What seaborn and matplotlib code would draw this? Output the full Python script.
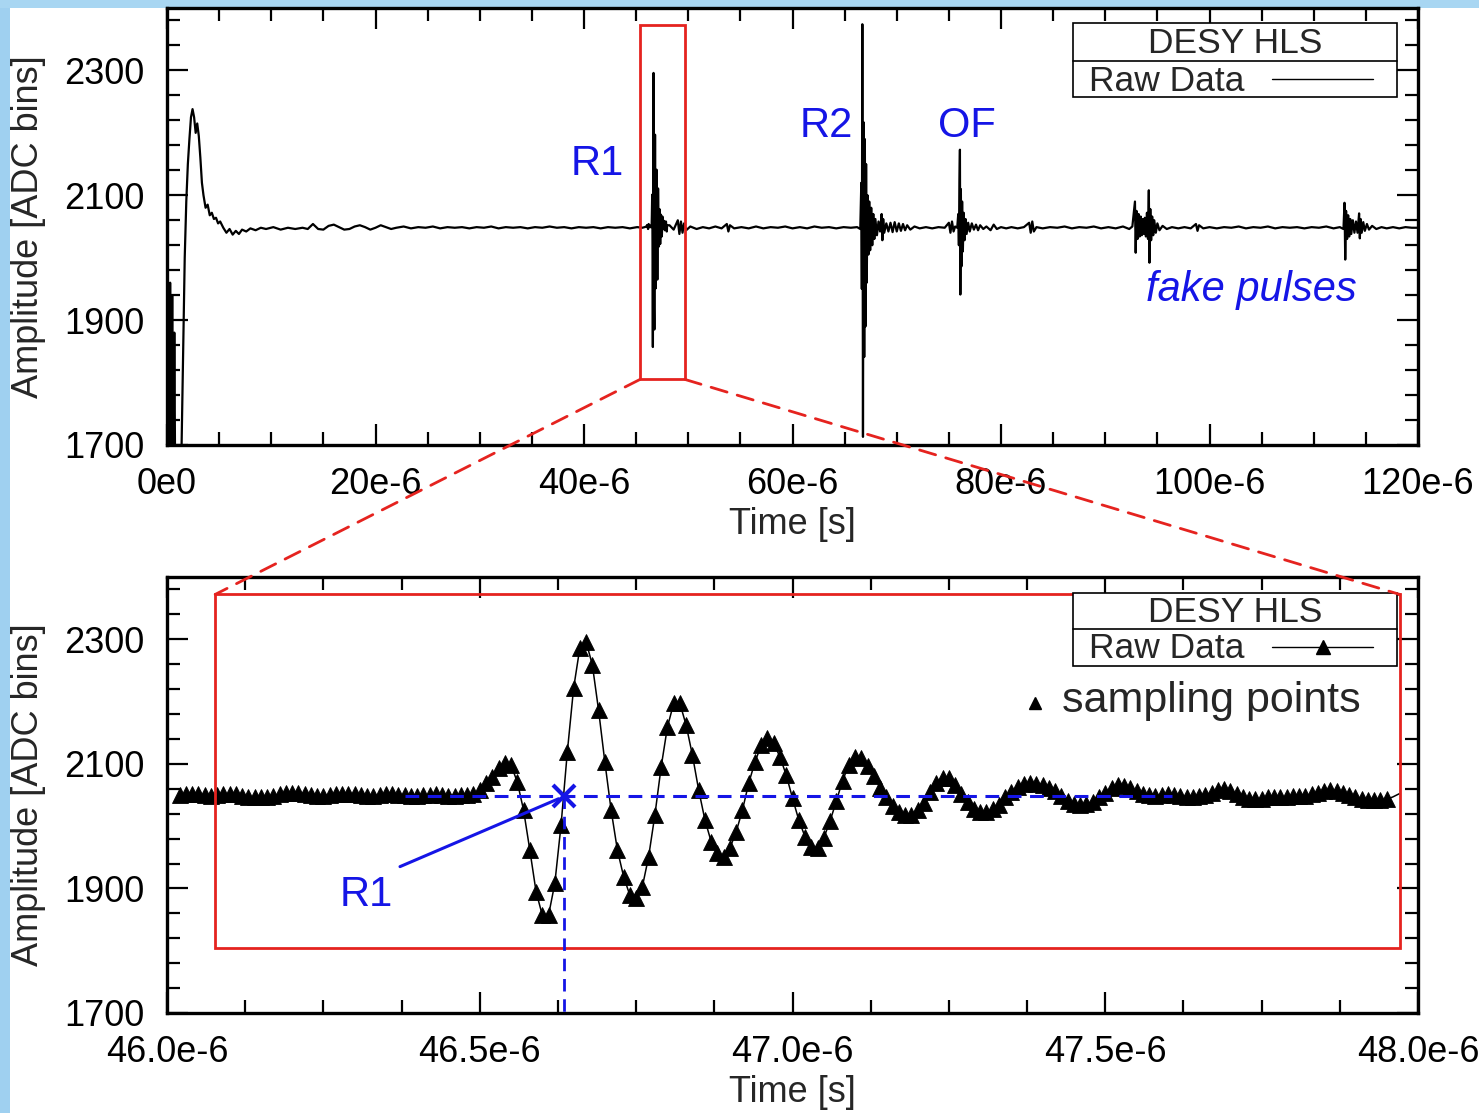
import numpy as np
import pandas as pd
import matplotlib
matplotlib.use("Agg")
import matplotlib.pyplot as plt
import seaborn as sns
from matplotlib.patches import Rectangle, ConnectionPatch
from matplotlib.ticker import FixedLocator, FuncFormatter

# ---------------- data ----------------
# Zoomed window: ADC samples taken every 10 ns, first sample at 46.02 us
window_start_us = 46.02
window_step_us = 0.01
window_adc = [
    2050, 2051, 2052, 2051, 2050, 2049, 2050, 2051,
    2052, 2051, 2049, 2047, 2046, 2046, 2047, 2049, 2051, 2053,
    2054, 2053, 2052, 2050, 2049, 2049, 2050, 2051, 2052, 2052,
    2051, 2050, 2049, 2049, 2050, 2051, 2051, 2050, 2050, 2049,
    2049, 2050, 2050, 2051, 2050, 2049, 2049, 2050, 2050, 2052,
    2058, 2069, 2079, 2093, 2101, 2098, 2071, 2026, 1962, 1895,
    1857, 1857, 1908, 2002, 2119, 2221, 2286, 2296, 2259, 2186,
    2103, 2026, 1962, 1919, 1889, 1885, 1903, 1951, 2018, 2095,
    2159, 2197, 2197, 2162, 2114, 2058, 2010, 1975, 1957, 1951,
    1965, 1991, 2026, 2069, 2103, 2130, 2141, 2133, 2111, 2082,
    2045, 2010, 1983, 1967, 1965, 1981, 2008, 2040, 2073, 2098,
    2111, 2110, 2096, 2080, 2062, 2046, 2033, 2022, 2018, 2018,
    2026, 2037, 2055, 2070, 2078, 2077, 2066, 2051, 2038, 2027,
    2022, 2022, 2027, 2034, 2046, 2055, 2063, 2067, 2069, 2068,
    2066, 2062, 2056, 2049, 2041, 2036, 2034, 2035, 2039, 2046,
    2054, 2061, 2066, 2065, 2061, 2056, 2052, 2050, 2049, 2050,
    2051, 2050, 2049, 2047, 2047, 2048, 2050, 2054, 2058, 2059,
    2056, 2051, 2047, 2044, 2044, 2044, 2046, 2047, 2047, 2047,
    2048, 2048, 2049, 2051, 2053, 2056, 2058, 2057, 2054, 2050,
    2046, 2043, 2042, 2042, 2042, 2043, 2047, 2052,
]
n_marked = 194  # sampling-point markers shown up to 47.95 us

# Overview trace (0 - 120 us), outside the zoomed window
transient_t = [0.0, 0.1, 0.2, 0.3, 0.4, 0.5, 0.6, 0.7, 0.8, 0.95,
               1.1, 1.25, 1.4, 1.55, 1.7, 1.85, 2.0, 2.15, 2.3, 2.45,
               2.6, 2.75, 2.9, 3.05, 3.2, 3.35, 3.5, 3.7, 3.9, 4.1,
               4.3, 4.5, 4.7, 4.9, 5.1, 5.4, 5.7, 6.0, 6.3, 6.6,
               6.9, 7.2, 7.6, 8.0, 8.5, 9.0]
transient_adc = [1990, 1700, 1560, 1960, 1600, 1940, 1560, 1880, 1600, 1650,
                 1580, 1600, 1700, 1850, 2000, 2090, 2150, 2190, 2225, 2238,
                 2225, 2200, 2215, 2195, 2160, 2120, 2100, 2080, 2085, 2068,
                 2072, 2062, 2064, 2055, 2058, 2048, 2040, 2046, 2037, 2043,
                 2038, 2045, 2042, 2047, 2044, 2048]

quiet_t = [9.5, 10.2, 10.9, 11.6, 12.3, 13.0, 13.5, 14.0, 14.5, 15.0,
           15.5, 16.0, 16.5, 17.0, 17.5, 18.0, 18.5, 19.0, 19.5, 20.0,
           20.5, 21.0, 21.5, 22.0, 22.7, 23.4, 24.1, 24.8, 25.5, 26.2,
           26.9, 27.6, 28.3, 29.0, 29.7, 30.4, 31.1, 31.8, 32.5, 33.2,
           33.9, 34.6, 35.3, 36.0, 36.7, 37.4, 38.1, 38.8, 39.5, 40.2,
           40.9, 41.6, 42.3, 43.0, 43.7, 44.4, 45.1, 45.6]
quiet_adc = [2046, 2049, 2045, 2048, 2046, 2048, 2046, 2054, 2046, 2045,
             2051, 2053, 2049, 2045, 2046, 2050, 2052, 2049, 2045, 2048,
             2052, 2049, 2046, 2048, 2050, 2047, 2049, 2048, 2050, 2047,
             2049, 2048, 2049, 2047, 2049, 2048, 2050, 2047, 2049, 2048,
             2049, 2047, 2049, 2048, 2050, 2048, 2049, 2047, 2049, 2048,
             2049, 2047, 2049, 2048, 2049, 2047, 2049, 2048]

after_r1_t = [48.2, 48.6, 49.0, 49.15, 49.3, 49.45, 49.6, 49.8, 50.2, 50.8,
              51.4, 52.0, 52.6, 53.2, 53.7, 53.85, 54.0, 54.4, 55.1, 55.8,
              56.5, 57.2, 57.9, 58.6, 59.3, 60.0, 60.7, 61.4, 62.1, 62.8,
              63.5, 64.2, 64.9, 65.6, 66.2, 66.5]
after_r1_adc = [2052, 2045, 2060, 2038, 2058, 2040, 2055, 2044, 2050, 2046,
                2049, 2047, 2050, 2047, 2054, 2042, 2052, 2047, 2049, 2047,
                2050, 2047, 2049, 2048, 2050, 2047, 2049, 2047, 2050, 2048,
                2049, 2047, 2049, 2048, 2049, 2046]

r2_t = [66.6, 66.65, 66.7, 66.76, 66.82, 66.88, 66.94, 67.0, 67.06, 67.12,
        67.2, 67.28, 67.36, 67.45, 67.55, 67.65, 67.75, 67.85, 67.95, 68.1,
        68.25, 68.4, 68.55, 68.62, 68.7, 68.8, 69.0, 69.2, 69.4, 69.6,
        69.8, 70.0, 70.2, 70.4, 70.6, 70.8, 71.0, 71.3, 71.7, 72.2]
r2_adc = [2120, 1950, 2374, 1713, 2217, 1841, 2190, 1890, 2150, 1960,
          2100, 2005, 2090, 2012, 2080, 2020, 2070, 2030, 2062, 2036,
          2058, 2042, 2070, 2028, 2062, 2040, 2055, 2042, 2056, 2041,
          2057, 2042, 2055, 2043, 2054, 2044, 2052, 2045, 2050, 2047]

of_t = [72.8, 73.4, 74.0, 74.6, 75.0, 75.15, 75.3, 75.45, 75.6, 75.8,
        75.9, 75.96, 76.02, 76.06, 76.1, 76.15, 76.2, 76.27, 76.34, 76.42,
        76.5, 76.6, 76.7, 76.85, 77.0, 77.2, 77.4, 77.6, 77.8, 78.0,
        78.3, 78.6, 79.0, 79.3, 79.6, 80.0, 80.5, 81.0, 81.6, 82.2,
        82.7, 82.85, 83.0, 83.15, 83.4, 84.0, 84.7, 85.4, 86.1, 86.8,
        87.5, 88.2, 88.9, 89.6, 90.3, 91.0, 91.7, 92.3, 92.6]
of_adc = [2049, 2047, 2049, 2048, 2056, 2040, 2058, 2042, 2050, 2048,
          2070, 2020, 2125, 2173, 1941, 2110, 1986, 2090, 2010, 2072,
          2028, 2062, 2038, 2056, 2042, 2055, 2045, 2053, 2044, 2052,
          2046, 2050, 2044, 2053, 2046, 2049, 2047, 2049, 2047, 2049,
          2056, 2040, 2058, 2042, 2049, 2047, 2049, 2048, 2050, 2047,
          2049, 2048, 2050, 2047, 2049, 2047, 2050, 2046, 2050]

fake1_t = [92.85, 92.92, 93.0, 93.1, 93.2, 93.3, 93.4, 93.5, 93.6, 93.7,
           93.8, 93.9, 94.0, 94.1, 94.18, 94.24, 94.32, 94.4, 94.5, 94.6,
           94.7, 94.85, 95.0, 95.2, 95.5, 95.9, 96.4, 97.0, 97.6, 98.2,
           98.7, 98.85, 99.0, 99.4, 100.0, 100.7, 101.4, 102.1, 102.8, 103.5,
           104.2, 104.9, 105.6, 106.3, 107.0, 107.7, 108.4, 109.1, 109.8, 110.5,
           111.2, 111.9, 112.5, 112.85]
fake1_adc = [2090, 2008, 2075, 2030, 2070, 2034, 2066, 2036, 2062, 2038,
             2064, 2034, 2072, 2030, 2108, 1992, 2078, 2028, 2066, 2036,
             2060, 2040, 2055, 2044, 2051, 2046, 2049, 2047, 2049, 2047,
             2054, 2043, 2052, 2047, 2049, 2047, 2049, 2048, 2050, 2047,
             2049, 2048, 2050, 2047, 2049, 2048, 2049, 2047, 2049, 2048,
             2050, 2047, 2049, 2046]

fake2_t = [112.95, 113.02, 113.1, 113.2, 113.3, 113.4, 113.5, 113.6, 113.75, 113.9,
           114.05, 114.2, 114.35, 114.42, 114.5, 114.6, 114.75, 114.9, 115.1, 115.3,
           115.6, 116.0, 116.5, 117.0, 117.6, 118.2, 118.8, 119.4, 120.0]
fake2_adc = [2088, 1997, 2075, 2030, 2068, 2034, 2062, 2038, 2060, 2040,
             2058, 2040, 2071, 2031, 2062, 2040, 2057, 2043, 2054, 2045,
             2051, 2046, 2049, 2047, 2049, 2047, 2049, 2048, 2048]

# tick positions / labels
top_major_us = [0, 20, 40, 60, 80, 100, 120]
top_minor_us = list(range(0, 121, 5))
zoom_major_us = [46.0, 46.5, 47.0, 47.5, 48.0]
zoom_minor_us = [46.0 + 0.125 * i for i in range(17)]
y_major = [1700, 1900, 2100, 2300]
y_minor = list(range(1700, 2401, 40))

# annotation values
zoom_box_us = (45.37, 49.69)       # red box on overview
zoom_box2_us = (46.077, 47.971)    # red box in zoomed view
box_adc = (1805, 2372)
r1_time_us = 46.634
baseline_adc = 2048

# ---------------- build frames ----------------
window_t_us = window_start_us + window_step_us * np.arange(len(window_adc))
segments = [(transient_t, transient_adc), (quiet_t, quiet_adc),
            (list(window_t_us), window_adc), (after_r1_t, after_r1_adc),
            (r2_t, r2_adc), (of_t, of_adc), (fake1_t, fake1_adc), (fake2_t, fake2_adc)]
for st, sv in segments:
    assert len(st) == len(sv), (len(st), len(sv))
top_t = np.concatenate([np.asarray(s[0], float) for s in segments])
top_v = np.concatenate([np.asarray(s[1], float) for s in segments])
top_df = pd.DataFrame({"time_s": top_t * 1e-6, "adc": top_v})
win_df = pd.DataFrame({"time_s": window_t_us * 1e-6, "adc": window_adc})

# ---------------- styling ----------------
sns.set_style("ticks")
plt.rcParams["font.family"] = ["Liberation Sans", "DejaVu Sans"]
BLUE = "#1515e6"
RED = "#e5231f"
FS = 26

W, H = 1479, 1113
fig = plt.figure(figsize=(W / 100, H / 100), dpi=100, facecolor="white")
fig.add_artist(Rectangle((0, 0), 10 / W, 1, transform=fig.transFigure,
                         facecolor="#9fd0f0", edgecolor="none", zorder=-10))
fig.add_artist(Rectangle((0, 1 - 8 / H), 1, 8 / H, transform=fig.transFigure,
                         facecolor="#a8d6f2", edgecolor="none", zorder=-10))

ax1 = fig.add_axes([167 / W, 1 - 445 / H, (1418 - 167) / W, (445 - 8) / H])
ax2 = fig.add_axes([167 / W, 1 - 1013 / H, (1418 - 167) / W, (1013 - 577) / H])

sns.lineplot(data=top_df, x="time_s", y="adc", ax=ax1, color="black", lw=1.6,
             estimator=None, sort=False, legend=False)
sns.lineplot(data=win_df, x="time_s", y="adc", ax=ax2, color="black", lw=1.1,
             estimator=None, sort=False, legend=False, marker="^", markersize=11,
             markerfacecolor="black", markeredgecolor="black", markeredgewidth=0.6,
             markevery=list(range(n_marked)))


def style_axes(ax, major_us, minor_us, fmt):
    ax.set_ylim(1700, 2400)
    ax.yaxis.set_major_locator(FixedLocator(y_major))
    ax.yaxis.set_minor_locator(FixedLocator(y_minor))
    ax.xaxis.set_major_locator(FixedLocator([v * 1e-6 for v in major_us]))
    ax.xaxis.set_minor_locator(FixedLocator([v * 1e-6 for v in minor_us]))
    ax.xaxis.set_major_formatter(FuncFormatter(fmt))
    ax.tick_params(which="both", direction="in", top=True, right=True,
                   width=1.6, labelsize=FS, pad=16, colors="black")
    ax.tick_params(which="major", length=15)
    ax.tick_params(which="minor", length=9.5)
    for s in ax.spines.values():
        s.set_linewidth(2.4)
        s.set_color("black")
    ax.set_xlabel("Time [s]", fontsize=FS)
    ax.set_ylabel("Amplitude [ADC bins]", fontsize=FS)
    ax.yaxis.set_label_coords(-0.0967, 0.5)
    ax.xaxis.set_label_coords(0.5, -0.142)
    ax.set_facecolor("white")


def fmt_top(x, p):
    return "0e0" if abs(x) < 1e-12 else f"{x * 1e6:.0f}e-6"


def fmt_zoom(x, p):
    return f"{x * 1e6:.1f}e-6"


ax1.set_xlim(0, 120e-6)
ax2.set_xlim(46e-6, 48e-6)
style_axes(ax1, top_major_us, top_minor_us, fmt_top)
style_axes(ax2, zoom_major_us, zoom_minor_us, fmt_zoom)


def draw_legend(ax, y_top, y_sep, y_bot, y_title, y_label, y_handle, marker):
    x0, x1 = 0.724, 0.983
    ax.add_patch(Rectangle((x0, y_bot), x1 - x0, y_top - y_bot, transform=ax.transAxes,
                           facecolor="white", edgecolor="black", lw=1.2, zorder=7))
    ax.plot([x0, x1], [y_sep, y_sep], transform=ax.transAxes, color="black", lw=1.2, zorder=8)
    ax.text((x0 + x1) / 2, y_title, "DESY HLS", transform=ax.transAxes, ha="center",
            va="baseline", fontsize=25.5, zorder=8)
    ax.text(0.737, y_label, "Raw Data", transform=ax.transAxes, ha="left",
            va="baseline", fontsize=25.5, zorder=8)
    ax.plot([0.883, 0.9643], [y_handle, y_handle], transform=ax.transAxes,
            color="black", lw=1.0, zorder=8)
    if marker:
        ax.plot([0.9238], [y_handle], transform=ax.transAxes, marker="^", ms=10,
                color="black", zorder=9)


draw_legend(ax1, 0.965, 0.8794, 0.7957, 0.8963, 0.8108, 0.8375, False)
draw_legend(ax2, 0.964, 0.880, 0.7966, 0.8975, 0.8135, 0.8401, True)

# overview annotations
ax1.add_patch(Rectangle((zoom_box_us[0] * 1e-6, box_adc[0]),
                        (zoom_box_us[1] - zoom_box_us[0]) * 1e-6, box_adc[1] - box_adc[0],
                        fill=False, edgecolor=RED, lw=2.0, zorder=4))
ax1.text(41.3e-6, 2133, "R1", color=BLUE, fontsize=30, ha="center", va="baseline")
ax1.text(63.2e-6, 2193, "R2", color=BLUE, fontsize=30, ha="center", va="baseline")
ax1.text(76.7e-6, 2193, "OF", color=BLUE, fontsize=30, ha="center", va="baseline")
ax1.text(104.0e-6, 1930, "fake pulses", color=BLUE, fontsize=30, style="italic",
         ha="center", va="baseline")

# zoom annotations
ax2.add_patch(Rectangle((zoom_box2_us[0] * 1e-6, box_adc[0]),
                        (zoom_box2_us[1] - zoom_box2_us[0]) * 1e-6, box_adc[1] - box_adc[0],
                        fill=False, edgecolor=RED, lw=2.0, zorder=4))
ax2.plot([46.38e-6, 47.607e-6], [baseline_adc, baseline_adc], color=BLUE, lw=2.2,
         dashes=(4.5, 2.8), zorder=5)
ax2.plot([r1_time_us * 1e-6, r1_time_us * 1e-6], [baseline_adc, 1700], color=BLUE,
         lw=2.0, dashes=(4.5, 2.8), zorder=5)
ax2.plot([46.3725e-6, 46.626e-6], [1935, 2044], color=BLUE, lw=2.2, zorder=5)
ax2.plot([r1_time_us * 1e-6], [baseline_adc], marker="x", ms=16, mew=3,
         color=BLUE, zorder=6)
ax2.text(46.318e-6, 1871, "R1", color=BLUE, fontsize=30, ha="center", va="baseline")
ax2.plot([0.6938], [0.7117], transform=ax2.transAxes, marker="^", ms=9, color="black")
ax2.text(0.7152, 0.691, "sampling points", transform=ax2.transAxes, fontsize=31,
         ha="left", va="baseline")

# red dashed connectors between panels
for xa, xb in [(zoom_box_us[0], zoom_box2_us[0]), (zoom_box_us[1], zoom_box2_us[1])]:
    con = ConnectionPatch(xyA=(xa * 1e-6, box_adc[0]), coordsA=ax1.transData,
                          xyB=(xb * 1e-6, box_adc[1]), coordsB=ax2.transData,
                          color=RED, lw=2.0, linestyle=(0, (6, 3.8)), zorder=10)
    fig.add_artist(con)

fig.savefig("out.png", dpi=100, facecolor="white")
